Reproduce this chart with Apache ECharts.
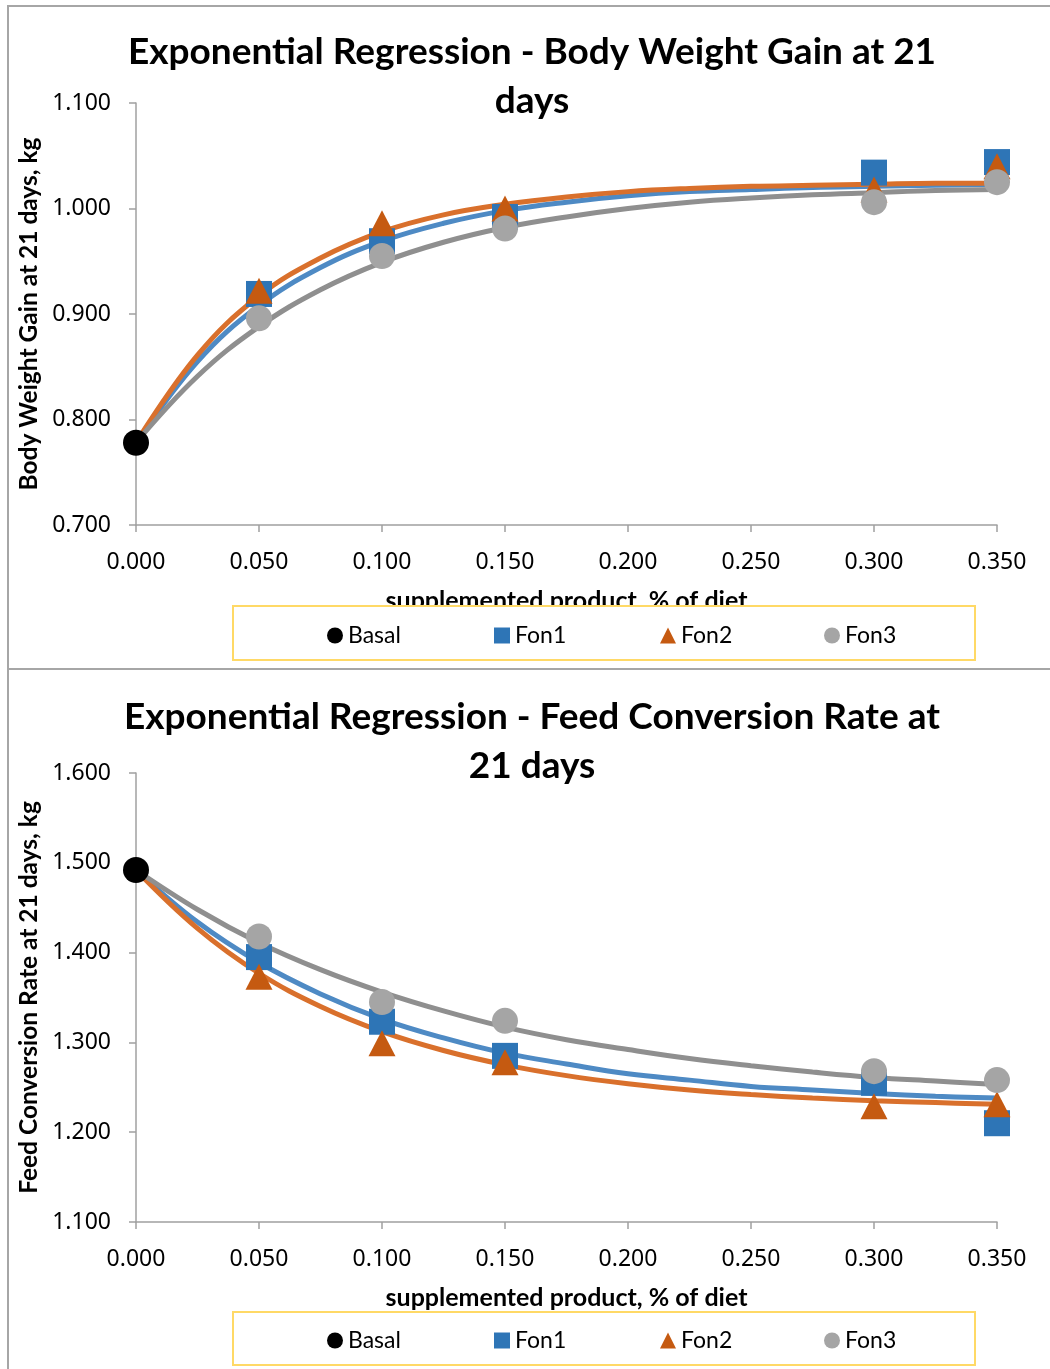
<!DOCTYPE html>
<html><head><meta charset="utf-8">
<script src="https://cdn.jsdelivr.net/npm/echarts@6/dist/echarts.min.js"></script>
<style>html,body{margin:0;padding:0;background:#fff}#c{width:1050px;height:1369px}</style>
</head><body><div id="c"></div>
<script>
// ---- data ----
const seriesNames = ['Basal', 'Fon1', 'Fon2', 'Fon3'];
const basalX = [0.000];
const fonX = [0.050, 0.100, 0.150, 0.300, 0.350];
const fitX = [0, 0.025, 0.05, 0.075, 0.1, 0.125, 0.15, 0.175, 0.2, 0.225, 0.25, 0.275, 0.3, 0.325, 0.35];

// Body weight gain at 21 days, kg
const bwgBasal = [0.778];
const bwgFon1 = [0.919, 0.969, 0.992, 1.034, 1.044];
const bwgFon2 = [0.922, 0.986, 1.000, 1.018, 1.040];
const bwgFon3 = [0.896, 0.955, 0.981, 1.006, 1.025];
const bwgFitFon1 = [0.778, 0.855, 0.908, 0.944, 0.969, 0.986, 0.998, 1.006, 1.012, 1.016, 1.018, 1.020, 1.021, 1.022, 1.023];
const bwgFitFon2 = [0.778, 0.861, 0.917, 0.953, 0.978, 0.994, 1.004, 1.011, 1.016, 1.019, 1.021, 1.022, 1.023, 1.024, 1.024];
const bwgFitFon3 = [0.778, 0.841, 0.888, 0.923, 0.949, 0.968, 0.982, 0.992, 1.000, 1.006, 1.010, 1.013, 1.015, 1.017, 1.018];

// Feed conversion rate at 21 days
const fcrBasal = [1.492];
const fcrFon1 = [1.395, 1.323, 1.285, 1.255, 1.210];
const fcrFon2 = [1.373, 1.299, 1.278, 1.229, 1.231];
const fcrFon3 = [1.418, 1.345, 1.324, 1.268, 1.258];
const fcrFitFon1 = [1.492, 1.434, 1.389, 1.354, 1.326, 1.305, 1.288, 1.276, 1.265, 1.258, 1.251, 1.247, 1.243, 1.240, 1.238];
const fcrFitFon2 = [1.492, 1.427, 1.377, 1.340, 1.312, 1.291, 1.275, 1.263, 1.254, 1.247, 1.242, 1.238, 1.235, 1.233, 1.231];
const fcrFitFon3 = [1.492, 1.448, 1.411, 1.381, 1.356, 1.335, 1.317, 1.303, 1.292, 1.282, 1.274, 1.267, 1.261, 1.257, 1.253];

const titles = ['Exponential Regression - Body Weight Gain at 21\ndays', 'Exponential Regression - Feed Conversion Rate at\n21 days'];
const yNames = ['Body Weight Gain at 21 days, kg', 'Feed Conversion Rate at 21 days, kg'];
const xName = 'supplemented product, % of diet';

// ---- styling ----
const markerColors = ['#000000', '#2E75B6', '#C55A11', '#A5A5A5'];
const lineColors = ['#000000', '#4E8AC4', '#D9702C', '#8F8F8F'];
const symbols = ['circle', 'rect', 'triangle', 'circle'];
const axisGray = '#A0A0A0';
const labelFont = 'Noto Sans';
const titleFont = 'Lato';

function zip(xs, ys) { return xs.map((x, i) => [x, ys[i]]); }

const chart = echarts.init(document.getElementById('c'), null, { renderer: 'canvas' });

const grids = [
  { left: 136, right: 53, top: 103, height: 422 },
  { left: 136, right: 53, top: 773, height: 449 }
];
const yRanges = [[0.7, 1.1], [1.1, 1.6]];

const xAxes = grids.map((g, i) => ({
  type: 'value', gridIndex: i, min: 0, max: 0.35, interval: 0.05,
  name: xName, nameLocation: 'middle', nameGap: 63,
  nameTextStyle: { fontFamily: titleFont, fontWeight: 'bold', fontSize: 25, color: '#000' },
  axisLine: { lineStyle: { color: axisGray, width: 1.5 } },
  axisTick: { show: true, length: 7, lineStyle: { color: axisGray, width: 1.5 } },
  axisLabel: { fontFamily: labelFont, fontSize: 23, color: '#000', margin: 26, formatter: v => v.toFixed(3) },
  splitLine: { show: false }
}));
const yAxes = grids.map((g, i) => ({
  type: 'value', gridIndex: i, min: yRanges[i][0], max: yRanges[i][1], interval: 0.1,
  name: yNames[i], nameLocation: 'middle', nameGap: 94, nameRotate: 90,
  nameTextStyle: { fontFamily: titleFont, fontWeight: 'bold', fontSize: 24.5, color: '#000' },
  axisLine: { show: true, lineStyle: { color: axisGray, width: 1.5 } },
  axisTick: { show: true, length: 7, lineStyle: { color: axisGray, width: 1.5 } },
  axisLabel: { fontFamily: labelFont, fontSize: 23, color: '#000', margin: 25, formatter: v => v.toFixed(3) },
  splitLine: { show: false }
}));

const datasets = [
  { basal: bwgBasal, pts: [bwgFon1, bwgFon2, bwgFon3], fits: [bwgFitFon1, bwgFitFon2, bwgFitFon3] },
  { basal: fcrBasal, pts: [fcrFon1, fcrFon2, fcrFon3], fits: [fcrFitFon1, fcrFitFon2, fcrFitFon3] }
];

const series = [];
datasets.forEach((d, gi) => {
  d.fits.forEach((f, k) => {
    series.push({
      name: seriesNames[k + 1] + ' fit', type: 'line', xAxisIndex: gi, yAxisIndex: gi,
      data: zip(fitX, f), smooth: 0.4, showSymbol: false, symbol: 'none',
      lineStyle: { color: lineColors[k + 1], width: 5 }, z: 2, silent: true
    });
  });
  series.push({
    name: 'Basal', type: 'scatter', xAxisIndex: gi, yAxisIndex: gi,
    data: zip(basalX, d.basal), symbol: 'circle', symbolSize: 26,
    itemStyle: { color: markerColors[0], opacity: 1 }, z: 6
  });
  d.pts.forEach((p, k) => {
    series.push({
      name: seriesNames[k + 1], type: 'scatter', xAxisIndex: gi, yAxisIndex: gi,
      data: zip(fonX, p), symbol: symbols[k + 1], symbolSize: k === 1 ? [27, 26] : 26,
      itemStyle: { color: markerColors[k + 1], opacity: 1 }, z: 3 + k
    });
  });
});

const legendLefts = [322, 489, 655, 819];
const legendTops = [633, 1338];
const legends = [];
legendTops.forEach(t => {
  seriesNames.forEach((n, k) => {
    legends.push({
      show: true, left: legendLefts[k], top: t - 14, orient: 'horizontal',
      data: [{ name: n, icon: symbols[k] }], itemWidth: 16, itemHeight: 16, itemGap: 0,
      selectedMode: false, z: 30,
      textStyle: { fontFamily: titleFont, fontSize: 23, color: '#000', padding: [0, 0, 0, 0] }
    });
  });
});

const titleStyle = { fontFamily: titleFont, fontWeight: 'bold', fontSize: 37, lineHeight: 49, color: '#000' };

chart.setOption({
  animation: false,
  backgroundColor: '#ffffff',
  title: [
    { text: titles[0], left: 527, textAlign: 'center', top: 23, padding: 5, textStyle: titleStyle },
    { text: titles[1], left: 527, textAlign: 'center', top: 688, padding: 5, textStyle: titleStyle }
  ],
  grid: grids,
  xAxis: xAxes,
  yAxis: yAxes,
  legend: legends,
  graphic: [
    { type: 'rect', shape: { x: 8, y: 6, width: 1060, height: 663 }, style: { fill: 'none', stroke: '#A6A6A6', lineWidth: 2 }, z: 1, silent: true },
    { type: 'rect', shape: { x: 8, y: 669, width: 1060, height: 720 }, style: { fill: 'none', stroke: '#A6A6A6', lineWidth: 2 }, z: 1, silent: true },
    { type: 'rect', shape: { x: 233, y: 606, width: 742, height: 54 }, style: { fill: '#ffffff', stroke: '#FFD966', lineWidth: 2 }, z: 20, silent: true },
    { type: 'rect', shape: { x: 233, y: 1312, width: 742, height: 53 }, style: { fill: '#ffffff', stroke: '#FFD966', lineWidth: 2 }, z: 20, silent: true }
  ],
  series: series
});
</script></body></html>
